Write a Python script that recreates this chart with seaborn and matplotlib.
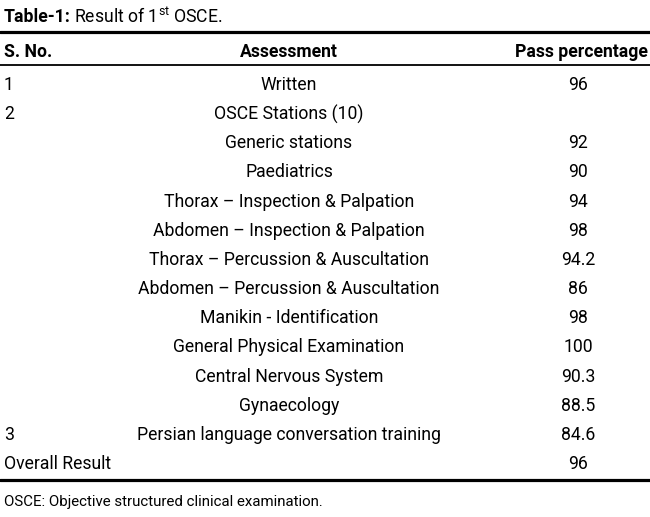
import matplotlib
matplotlib.use("Agg")
import matplotlib.pyplot as plt
import seaborn as sns

# table content
s_no = ["1", "2", "", "", "", "", "", "", "", "", "", "", "3", "Overall Result"]
assessment = [
    "Written",
    "OSCE Stations (10)",
    "Generic stations",
    "Paediatrics",
    "Thorax \u2013 Inspection & Palpation",
    "Abdomen \u2013 Inspection & Palpation",
    "Thorax \u2013 Percussion & Auscultation",
    "Abdomen \u2013 Percussion & Auscultation",
    "Manikin - Identification",
    "General Physical Examination",
    "Central Nervous System",
    "Gynaecology",
    "Persian language conversation training",
    "",
]
pass_pct = ["96", "", "92", "90", "94", "98", "94.2", "86", "98", "100", "90.3", "88.5", "84.6", "96"]
headers = ["S. No.", "Assessment", "Pass percentage"]
title_bold = "Table-1:"
title_rest = "Result of 1$^{\\mathrm{st}}$ OSCE."
footnote = "OSCE: Objective structured clinical examination."

sns.set_theme(style="white")
plt.rcParams["font.family"] = ["Roboto", "DejaVu Sans"]
plt.rcParams["mathtext.fontset"] = "custom"
plt.rcParams["mathtext.rm"] = "Roboto"
plt.rcParams["text.color"] = "black"

W, H = 650, 517
fig = plt.figure(figsize=(W / 100, H / 100), dpi=100)
ax = fig.add_axes([0, 0, 1, 1])
ax.set_xlim(0, W)
ax.set_ylim(H, 0)
ax.axis("off")

fs = 12.7
row0, step = 85, 29.15
x_sno, x_assess, x_pct = 4, 289, 578

# title
t = ax.text(4, 17, title_bold, fontsize=fs, fontweight="bold", va="center", ha="left")
fig.canvas.draw()
x_end = t.get_window_extent().x1
ax.text(x_end + 3, 17, title_rest, fontsize=fs, va="center", ha="left")

# rules
ax.axhline(32, color="black", lw=2.3)
ax.axhline(65, color="black", lw=1.3)
ax.axhline(480, color="black", lw=2.3)

# header
hy = 52
ax.text(x_sno, hy, headers[0], fontsize=fs, fontweight="bold", va="center", ha="left")
ax.text(x_assess, hy, headers[1], fontsize=fs, fontweight="bold", va="center", ha="center")
ax.text(W - 2, hy, headers[2], fontsize=fs, fontweight="bold", va="center", ha="right")

# body rows
for i, (n, a, p) in enumerate(zip(s_no, assessment, pass_pct)):
    y = row0 + step * i
    ax.text(x_sno, y, n, fontsize=fs, va="center", ha="left")
    ax.text(x_assess, y, a, fontsize=fs, va="center", ha="center")
    ax.text(x_pct, y, p, fontsize=fs, va="center", ha="center")

ax.text(4, 502, footnote, fontsize=fs * 0.85, va="center", ha="left")

fig.savefig("out.png", dpi=100)
